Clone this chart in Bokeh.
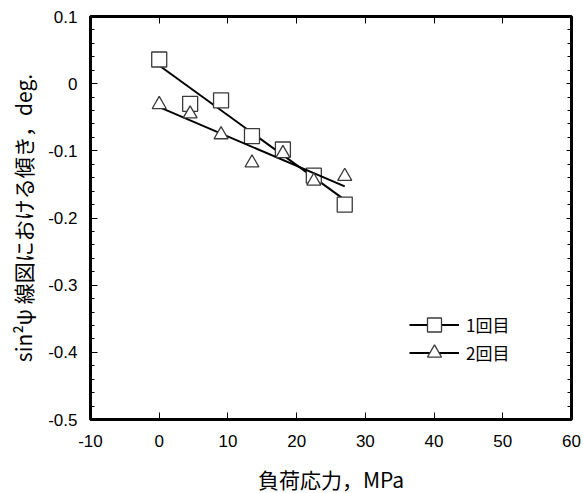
from bokeh.plotting import figure
from bokeh.models import (Range1d, SingleIntervalTicker, FixedTicker, LinearAxis,
                          Legend, LegendItem, CustomJSTickFormatter, CustomLabelingPolicy)
from bokeh.embed import file_html
from bokeh.resources import INLINE

# ---- data ----
stress = [0, 4.5, 9, 13.5, 18, 22.5, 27]           # 負荷応力, MPa
run1 = [0.036, -0.030, -0.025, -0.078, -0.098, -0.137, -0.180]   # 1回目
run2 = [-0.031, -0.045, -0.076, -0.118, -0.104, -0.145, -0.138]  # 2回目
fit_x = [0, 27]
fit1 = [0.027, -0.173]
fit2 = [-0.035, -0.153]
x_ticks = [-10, 0, 10, 20, 30, 40, 50, 60]
series_labels = ["1回目", "2回目"]
x_label = "負荷応力，MPa"
y_label = "sin²ψ 線図における傾き，deg."

LAT = "Liberation Sans"
JP = "Noto Sans CJK JP"

p = figure(frame_width=481, frame_height=403, output_backend="svg",
           toolbar_location=None, x_range=Range1d(-10, 60), y_range=Range1d(-0.5, 0.1),
           min_border_left=90, min_border_top=16, min_border_right=3, min_border_bottom=60,
           x_axis_location=None, y_axis_location=None)
p.xgrid.visible = False
p.ygrid.visible = False
p.outline_line_color = "black"
p.outline_line_width = 3
p.background_fill_color = "white"

xt = FixedTicker(ticks=x_ticks, minor_ticks=[])
yt = SingleIntervalTicker(interval=0.1, num_minor_ticks=5)
xfmt = CustomJSTickFormatter(code="return tick.toFixed(0);")
yfmt = CustomJSTickFormatter(code="return Math.abs(tick) < 1e-9 ? '0' : tick.toFixed(1);")
no_labels = CustomLabelingPolicy(code="const a = [...indices]; for (const i of a) indices.unset(i); return indices;")

def style(ax, labels=True):
    ax.axis_line_color = None
    ax.major_tick_out = 0
    ax.minor_tick_out = 0
    ax.major_tick_line_color = "black"
    ax.minor_tick_line_color = "black"
    ax.major_tick_line_width = 1
    ax.minor_tick_line_width = 1
    if labels:
        ax.major_label_text_font = LAT
        ax.major_label_text_font_size = "17px"
        ax.major_label_text_color = "black"
        ax.axis_label_text_font = JP
        ax.axis_label_text_font_size = "21px"
        ax.axis_label_text_font_style = "normal"
        ax.axis_label_text_color = "black"
    else:
        ax.major_label_policy = no_labels
        ax.major_label_standoff = 0

xb = LinearAxis(ticker=xt, formatter=xfmt, axis_label=x_label)
style(xb)
xb.major_tick_in = 7
xb.minor_tick_in = 0
xb.major_label_standoff = 15
xb.axis_label_standoff = 14
p.add_layout(xb, "below")

xa = LinearAxis(ticker=xt, formatter=xfmt)
style(xa, labels=False)
xa.major_tick_in = 7
xa.minor_tick_in = 0
p.add_layout(xa, "above")

yl = LinearAxis(ticker=yt, formatter=yfmt, axis_label=y_label)
style(yl)
yl.major_tick_in = 7
yl.minor_tick_in = 4
yl.major_label_standoff = 13
yl.axis_label_standoff = 7
p.add_layout(yl, "left")

yr = LinearAxis(ticker=yt, formatter=yfmt)
style(yr, labels=False)
yr.major_tick_in = 5
yr.minor_tick_in = 4
p.add_layout(yr, "right")

l1 = p.line(fit_x, fit1, line_color="black", line_width=2)
s1 = p.scatter(stress, run1, marker="square", size=15, fill_color="white",
               line_color="#3a3a3a", line_width=1.3)
l2 = p.line(fit_x, fit2, line_color="black", line_width=2)
s2 = p.scatter(stress, run2, marker="triangle", size=14, fill_color="white",
               line_color="#3a3a3a", line_width=1.3)

def make_legend(label, renderers, loc):
    lg = Legend(items=[LegendItem(label=label, renderers=renderers)],
                location=loc, orientation="vertical")
    lg.glyph_width = 50
    lg.glyph_height = 35
    lg.spacing = 0
    lg.padding = 0
    lg.margin = 0
    lg.label_standoff = 7
    lg.label_text_font = JP
    lg.label_text_font_size = "17px"
    lg.label_text_color = "black"
    lg.border_line_color = None
    lg.background_fill_alpha = 0
    return lg

p.add_layout(make_legend(series_labels[0], [l1, s1], (319, 77)), "center")
p.add_layout(make_legend(series_labels[1], [l2, s2], (319, 49)), "center")

open("out.html", "w").write(file_html(p, INLINE))
